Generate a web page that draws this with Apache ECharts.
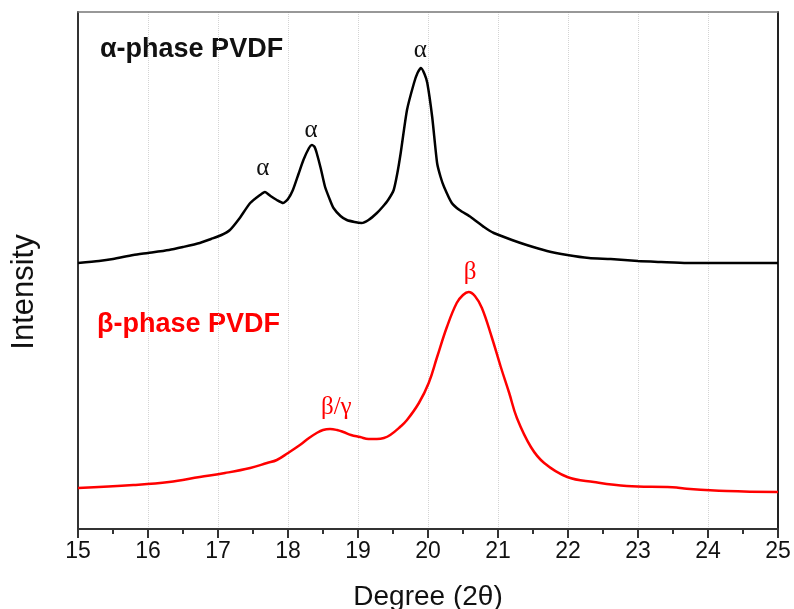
<!DOCTYPE html>
<html>
<head>
<meta charset="utf-8">
<script src="https://cdn.jsdelivr.net/npm/echarts@6/dist/echarts.min.js"></script>
<style>
  html, body { margin: 0; padding: 0; background: #fff; }
  #chart { width: 794px; height: 609px; }
</style>
</head>
<body>
<div id="chart"></div>
<script>
// 2θ values and intensities (arb. units)
const alphaX = [15.0, 15.3, 15.5, 15.79, 16.0, 16.3, 16.5, 16.74, 16.9, 17.05, 17.17, 17.3, 17.46, 17.6, 17.67, 17.75, 17.84, 17.93, 18.0, 18.07, 18.15, 18.22, 18.3, 18.34, 18.38, 18.41, 18.47, 18.53, 18.6, 18.65, 18.75, 18.84, 18.95, 19.05, 19.15, 19.27, 19.35, 19.43, 19.51, 19.56, 19.61, 19.7, 19.8, 19.85, 19.9, 19.95, 19.99, 20.06, 20.13, 20.18, 20.23, 20.34, 20.45, 20.61, 20.8, 20.94, 21.2, 21.41, 21.7, 21.99, 22.3, 22.61, 23.0, 23.33, 23.7, 24.04, 24.5, 25.0];
const alphaY = [266, 268, 270, 274, 276, 279, 282, 286, 290, 294, 299, 310, 326, 334, 337, 333, 329, 326, 330, 339, 355, 369, 381, 384, 382, 376, 360, 342, 329, 321, 313, 309, 307, 306, 309, 316, 322, 329, 339, 355, 376, 419, 446, 456, 461, 455, 446, 412, 366, 352, 342, 326, 319, 312, 302, 296, 289, 284, 278, 274, 271, 270, 268, 267, 266, 266, 266, 266];

const betaX = [15.0, 15.79, 16.3, 16.74, 17.1, 17.46, 17.7, 17.84, 18.0, 18.17, 18.3, 18.41, 18.5, 18.6, 18.7, 18.79, 18.9, 19.03, 19.15, 19.27, 19.37, 19.46, 19.6, 19.7, 19.87, 20.01, 20.13, 20.27, 20.41, 20.5, 20.58, 20.67, 20.77, 20.91, 21.04, 21.16, 21.27, 21.47, 21.66, 21.99, 22.37, 22.84, 23.41, 23.55, 23.66, 24.27, 25.0];
const betaY = [41, 44, 47, 52, 56, 61, 66, 69, 76, 84, 91, 96, 99, 100, 99, 97, 94, 92, 90, 90, 91, 94, 102, 109, 126, 146, 172, 202, 226, 234, 237, 233, 221, 192, 162, 136, 111, 82, 66, 52, 47, 43, 42, 41.5, 40.5, 38, 37];

// peak annotations: [2θ, intensity, text]
const alphaPeaks = [[17.64, 361, 'α'], [18.33, 399, 'α'], [19.89, 479, 'α']];
const betaPeaks = [[18.69, 122, 'β/γ'], [20.6, 257, 'β']];

const xTicks = [15, 16, 17, 18, 19, 20, 21, 22, 23, 24, 25];

function zip(xs, ys) {
    return xs.map(function (x, i) { return [x, ys[i]]; });
}

function peakMarks(peaks, color) {
    return {
        symbol: 'circle',
        symbolSize: 1,
        itemStyle: { color: 'rgba(0,0,0,0)' },
        silent: true,
        animation: false,
        label: {
            show: true,
            position: 'inside',
            color: color,
            fontFamily: 'Liberation Serif',
            fontSize: 25,
            formatter: function (p) { return p.name; }
        },
        data: peaks.map(function (p) {
            return { name: p[2], coord: [p[0], p[1]] };
        })
    };
}

const chart = echarts.init(document.getElementById('chart'));

const option = {
    animation: false,
    backgroundColor: '#fff',
    grid: {
        left: 78, right: 16, top: 12, bottom: 80,
        containLabel: false,
        outerBoundsMode: 'none'
    },
    xAxis: [{
        type: 'value',
        min: 15, max: 25, interval: 1,
        name: 'Degree (2θ)',
        nameLocation: 'middle',
        nameGap: 54,
        nameTextStyle: { fontFamily: 'Liberation Sans', fontSize: 28, color: '#111' },
        axisLine: { show: true, onZero: false, lineStyle: { color: '#333', width: 2 } },
        axisTick: { show: true, inside: false, length: 9, lineStyle: { color: '#333', width: 2 } },
        minorTick: { show: true, splitNumber: 2, length: 5, lineStyle: { color: '#333', width: 2 } },
        axisLabel: {
            margin: 11,
            fontFamily: 'Liberation Sans', fontSize: 23, color: '#111',
            formatter: function (v) { return xTicks.indexOf(v) >= 0 ? String(v) : ''; }
        },
        splitLine: { show: true, lineStyle: { color: '#d4d4d4', type: 'dotted', width: 1 } }
    }, {
        type: 'value',
        position: 'top',
        min: 15, max: 25,
        axisLine: { show: true, onZero: false, lineStyle: { color: '#777', width: 1.5 } },
        axisTick: { show: false },
        axisLabel: { show: false },
        splitLine: { show: false }
    }],
    yAxis: [{
        type: 'value',
        min: 0, max: 517,
        axisLine: { show: true, onZero: false, lineStyle: { color: '#333', width: 2 } },
        axisTick: { show: false },
        axisLabel: { show: false },
        splitLine: { show: false }
    }, {
        type: 'value',
        position: 'right',
        min: 0, max: 517,
        axisLine: { show: true, onZero: false, lineStyle: { color: '#222', width: 2 } },
        axisTick: { show: false },
        axisLabel: { show: false },
        splitLine: { show: false }
    }],
    graphic: [{
        type: 'text',
        x: 24, y: 292,
        rotation: Math.PI / 2,
        style: {
            text: 'Intensity',
            align: 'center', verticalAlign: 'middle',
            fontFamily: 'Liberation Sans', fontSize: 31, fill: '#111'
        }
    }, {
        type: 'text',
        x: 100, y: 50,
        style: {
            text: 'α-phase PVDF',
            align: 'left', verticalAlign: 'middle',
            fontFamily: 'Liberation Sans', fontWeight: 'bold', fontSize: 27, fill: '#111'
        }
    }, {
        type: 'text',
        x: 97, y: 325,
        style: {
            text: 'β-phase PVDF',
            align: 'left', verticalAlign: 'middle',
            fontFamily: 'Liberation Sans', fontWeight: 'bold', fontSize: 27, fill: '#ff0000'
        }
    }],
    series: [{
        name: 'α-phase PVDF',
        type: 'line',
        data: zip(alphaX, alphaY),
        showSymbol: false,
        smooth: 0.2,
        lineStyle: { color: '#000', width: 2.5 },
        markPoint: peakMarks(alphaPeaks, '#111')
    }, {
        name: 'β-phase PVDF',
        type: 'line',
        data: zip(betaX, betaY),
        showSymbol: false,
        smooth: 0.4,
        lineStyle: { color: '#ff0000', width: 2.5 },
        markPoint: peakMarks(betaPeaks, '#ff0000')
    }]
};

chart.setOption(option);
</script>
</body>
</html>
